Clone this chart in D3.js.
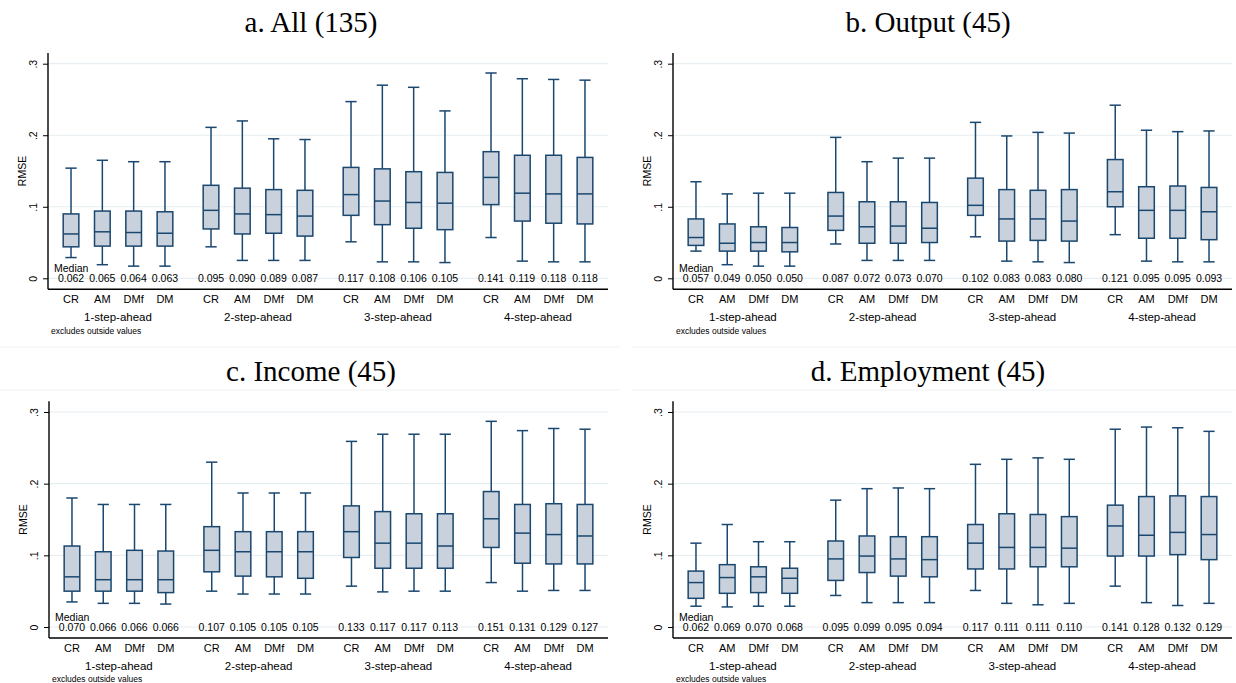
<!DOCTYPE html>
<html>
<head>
<meta charset="utf-8">
<script src="https://cdn.jsdelivr.net/npm/d3@7"></script>
<style>
  html, body { margin: 0; padding: 0; background: #fff; }
  svg { display: block; }
</style>
</head>
<body>
<svg id="chart" width="1236" height="683"></svg>
<script>
// Forecast horizons and models
const groups = ["1-step-ahead", "2-step-ahead", "3-step-ahead", "4-step-ahead"];
const models = ["CR", "AM", "DMf", "DM"];
const yTicks = [0, 0.1, 0.2, 0.3];
const yTickLabels = ["0", ".1", ".2", ".3"];

// RMSE box statistics, horizon-major (CR, AM, DMf, DM within each horizon)
// a. All (135)
const allLow  = [0.029, 0.019, 0.017, 0.017, 0.044, 0.025, 0.025, 0.025, 0.051, 0.023, 0.023, 0.022, 0.057, 0.024, 0.023, 0.023];
const allQ1   = [0.044, 0.045, 0.045, 0.045, 0.069, 0.062, 0.063, 0.059, 0.088, 0.075, 0.070, 0.068, 0.103, 0.080, 0.077, 0.076];
const allMed  = [0.062, 0.065, 0.064, 0.063, 0.095, 0.090, 0.089, 0.087, 0.117, 0.108, 0.106, 0.105, 0.141, 0.119, 0.118, 0.118];
const allQ3   = [0.090, 0.094, 0.094, 0.093, 0.130, 0.126, 0.124, 0.123, 0.155, 0.153, 0.149, 0.148, 0.177, 0.172, 0.172, 0.169];
const allHigh = [0.154, 0.165, 0.163, 0.163, 0.211, 0.220, 0.195, 0.194, 0.247, 0.270, 0.267, 0.234, 0.287, 0.279, 0.278, 0.277];

// b. Output (45)
const outLow  = [0.038, 0.019, 0.017, 0.017, 0.048, 0.025, 0.025, 0.025, 0.058, 0.024, 0.023, 0.022, 0.061, 0.024, 0.023, 0.023];
const outQ1   = [0.046, 0.038, 0.038, 0.037, 0.067, 0.049, 0.049, 0.050, 0.088, 0.052, 0.053, 0.052, 0.100, 0.056, 0.056, 0.054];
const outMed  = [0.057, 0.049, 0.050, 0.050, 0.087, 0.072, 0.073, 0.070, 0.102, 0.083, 0.083, 0.080, 0.121, 0.095, 0.095, 0.093];
const outQ3   = [0.083, 0.076, 0.072, 0.071, 0.120, 0.107, 0.107, 0.106, 0.140, 0.124, 0.123, 0.124, 0.166, 0.128, 0.129, 0.127];
const outHigh = [0.135, 0.118, 0.119, 0.119, 0.197, 0.163, 0.168, 0.168, 0.218, 0.199, 0.204, 0.203, 0.242, 0.207, 0.205, 0.206];

// c. Income (45)
const incLow  = [0.035, 0.033, 0.033, 0.032, 0.050, 0.046, 0.046, 0.046, 0.057, 0.049, 0.050, 0.050, 0.062, 0.050, 0.051, 0.051];
const incQ1   = [0.050, 0.050, 0.050, 0.048, 0.077, 0.071, 0.070, 0.068, 0.097, 0.082, 0.082, 0.082, 0.111, 0.089, 0.088, 0.088];
const incMed  = [0.070, 0.066, 0.066, 0.066, 0.107, 0.105, 0.105, 0.105, 0.133, 0.117, 0.117, 0.113, 0.151, 0.131, 0.129, 0.127];
const incQ3   = [0.113, 0.105, 0.107, 0.106, 0.140, 0.133, 0.133, 0.133, 0.169, 0.161, 0.158, 0.158, 0.189, 0.171, 0.172, 0.171];
const incHigh = [0.180, 0.171, 0.171, 0.171, 0.230, 0.187, 0.187, 0.187, 0.259, 0.269, 0.269, 0.269, 0.287, 0.274, 0.277, 0.276];

// d. Employment (45)
const empLow  = [0.029, 0.028, 0.029, 0.029, 0.044, 0.034, 0.034, 0.034, 0.051, 0.033, 0.031, 0.033, 0.057, 0.034, 0.030, 0.033];
const empQ1   = [0.040, 0.047, 0.048, 0.047, 0.065, 0.076, 0.071, 0.070, 0.081, 0.081, 0.084, 0.084, 0.099, 0.099, 0.101, 0.094];
const empMed  = [0.062, 0.069, 0.070, 0.068, 0.095, 0.099, 0.095, 0.094, 0.117, 0.111, 0.111, 0.110, 0.141, 0.128, 0.132, 0.129];
const empQ3   = [0.078, 0.087, 0.084, 0.082, 0.120, 0.127, 0.126, 0.126, 0.143, 0.158, 0.157, 0.154, 0.170, 0.182, 0.183, 0.182];
const empHigh = [0.117, 0.143, 0.119, 0.119, 0.177, 0.193, 0.194, 0.193, 0.227, 0.234, 0.236, 0.234, 0.276, 0.279, 0.278, 0.273];

const titles = ["a. All (135)", "b. Output (45)", "c. Income (45)", "d. Employment (45)"];

// Panel frames: axis left edge, plot right edge, pixel rows for y = 0 and y = .3, title baseline
const frames = [
  { left: 48,  right: 608,  zero: 278.3, top: 63.7, titleY: 32,  cx: 311 },
  { left: 673, right: 1232, zero: 278.3, top: 63.7, titleY: 32,  cx: 928 },
  { left: 49,  right: 608,  zero: 627.0, top: 412.0, titleY: 381, cx: 311 },
  { left: 673, right: 1232, zero: 627.0, top: 412.0, titleY: 381, cx: 928 }
];

const stats = [
  { low: allLow, q1: allQ1, med: allMed, q3: allQ3, high: allHigh },
  { low: outLow, q1: outQ1, med: outMed, q3: outQ3, high: outHigh },
  { low: incLow, q1: incQ1, med: incMed, q3: incQ3, high: incHigh },
  { low: empLow, q1: empQ1, med: empMed, q3: empQ3, high: empHigh }
];

const NAVY = "#1a476f";
const FILL = "#c9d2dc";
const GRID = "#e6eef1";
const SANS = "'Liberation Sans', Arial, sans-serif";
const SERIF = "'Liberation Serif', 'Times New Roman', serif";

const svg = d3.select("#chart");

// faint region edges between the upper and lower panels
[[0, 620], [632, 1236]].forEach(([a, b]) => {
  [347, 390].forEach(yy => {
    svg.append("line").attr("x1", a).attr("x2", b).attr("y1", yy).attr("y2", yy)
      .attr("stroke", "#eef3f5").attr("stroke-width", 1);
  });
});

frames.forEach((f, p) => {
  const s = stats[p];
  const g = svg.append("g");

  const y = d3.scaleLinear().domain([0, 0.3]).range([f.zero, f.top]);
  const outer = d3.scaleBand().domain(groups).range([f.left, f.right]);
  const inner = d3.scalePoint().domain(models).range([0, outer.bandwidth()]).padding(0.735);
  const xc = (gi, mi) => outer(groups[gi]) + inner(models[mi]);

  const axisY = y(-0.0153);
  const boxW = inner.step() * 0.5;
  const capW = boxW * 0.72;

  // title
  g.append("text").attr("x", f.cx).attr("y", f.titleY)
    .attr("text-anchor", "middle").attr("font-family", SERIF).attr("font-size", 29)
    .attr("fill", "#000").text(titles[p]);

  // gridlines
  g.selectAll(".grid").data(yTicks).join("line")
    .attr("x1", f.left).attr("x2", f.right)
    .attr("y1", d => y(d)).attr("y2", d => y(d))
    .attr("stroke", GRID).attr("stroke-width", 1.2);

  // y axis
  const yAxis = d3.axisLeft(y).tickValues(yTicks)
    .tickFormat((d, i) => yTickLabels[i]).tickSize(5).tickSizeOuter(0);
  const ya = g.append("g").attr("transform", `translate(${f.left},0)`).call(yAxis);
  ya.select(".domain").remove();
  ya.selectAll(".tick line").attr("stroke", "#000").attr("stroke-width", 1);
  ya.selectAll(".tick text")
    .attr("font-family", SANS).attr("font-size", 10.5).attr("fill", "#000")
    .attr("x", 0).attr("dy", 0)
    .attr("text-anchor", "middle")
    .attr("transform", "translate(-11,0) rotate(-90)");
  g.append("line").attr("x1", f.left).attr("x2", f.left)
    .attr("y1", axisY).attr("y2", y(0.315))
    .attr("stroke", "#000").attr("stroke-width", 1.4);

  // x axis line
  g.append("line").attr("x1", f.left).attr("x2", f.right)
    .attr("y1", axisY).attr("y2", axisY)
    .attr("stroke", "#000").attr("stroke-width", 1.4);

  // y title
  g.append("text").attr("transform", `translate(${f.left - 22},${y(0.15)}) rotate(-90)`)
    .attr("text-anchor", "middle").attr("font-family", SANS).attr("font-size", 10.5)
    .attr("fill", "#000").text("RMSE");

  // boxes
  const rows = [];
  groups.forEach((gr, gi) => models.forEach((m, mi) => {
    const k = gi * 4 + mi;
    rows.push({ gi, mi, x: xc(gi, mi), low: s.low[k], q1: s.q1[k], med: s.med[k], q3: s.q3[k], high: s.high[k] });
  }));

  const bx = g.selectAll(".bx").data(rows).join("g");
  // whiskers
  bx.append("line").attr("x1", d => d.x).attr("x2", d => d.x)
    .attr("y1", d => y(d.q3)).attr("y2", d => y(d.high))
    .attr("stroke", NAVY).attr("stroke-width", 1.5);
  bx.append("line").attr("x1", d => d.x).attr("x2", d => d.x)
    .attr("y1", d => y(d.q1)).attr("y2", d => y(d.low))
    .attr("stroke", NAVY).attr("stroke-width", 1.5);
  bx.append("line").attr("x1", d => d.x - capW / 2).attr("x2", d => d.x + capW / 2)
    .attr("y1", d => y(d.high)).attr("y2", d => y(d.high))
    .attr("stroke", NAVY).attr("stroke-width", 1.5);
  bx.append("line").attr("x1", d => d.x - capW / 2).attr("x2", d => d.x + capW / 2)
    .attr("y1", d => y(d.low)).attr("y2", d => y(d.low))
    .attr("stroke", NAVY).attr("stroke-width", 1.5);
  // box
  bx.append("rect").attr("x", d => d.x - boxW / 2).attr("width", boxW)
    .attr("y", d => y(d.q3)).attr("height", d => y(d.q1) - y(d.q3))
    .attr("fill", FILL).attr("stroke", NAVY).attr("stroke-width", 1.5);
  // median
  bx.append("line").attr("x1", d => d.x - boxW / 2).attr("x2", d => d.x + boxW / 2)
    .attr("y1", d => y(d.med)).attr("y2", d => y(d.med))
    .attr("stroke", NAVY).attr("stroke-width", 1.5);

  // median values
  g.selectAll(".mv").data(rows).join("text")
    .attr("x", d => d.x).attr("y", y(0) + 4)
    .attr("text-anchor", "middle").attr("font-family", SANS).attr("font-size", 10.5)
    .attr("fill", "#000").text(d => d3.format(".3f")(d.med));
  g.append("text").attr("x", f.left + 6).attr("y", y(0) - 6)
    .attr("font-family", SANS).attr("font-size", 10.5).attr("fill", "#000").text("Median");

  // category labels
  g.selectAll(".cl").data(rows).join("text")
    .attr("x", d => d.x).attr("y", axisY + 14)
    .attr("text-anchor", "middle").attr("font-family", SANS).attr("font-size", 11)
    .attr("fill", "#000").text(d => models[d.mi]);

  // horizon labels
  g.selectAll(".gl").data(groups).join("text")
    .attr("x", d => outer(d) + outer.bandwidth() / 2).attr("y", axisY + 32)
    .attr("text-anchor", "middle").attr("font-family", SANS).attr("font-size", 11.5)
    .attr("fill", "#000").text(d => d);

  // note
  g.append("text").attr("x", f.left + 3).attr("y", axisY + 44.5)
    .attr("font-family", SANS).attr("font-size", 8.5).attr("fill", "#000")
    .text("excludes outside values");
});
</script>
</body>
</html>
